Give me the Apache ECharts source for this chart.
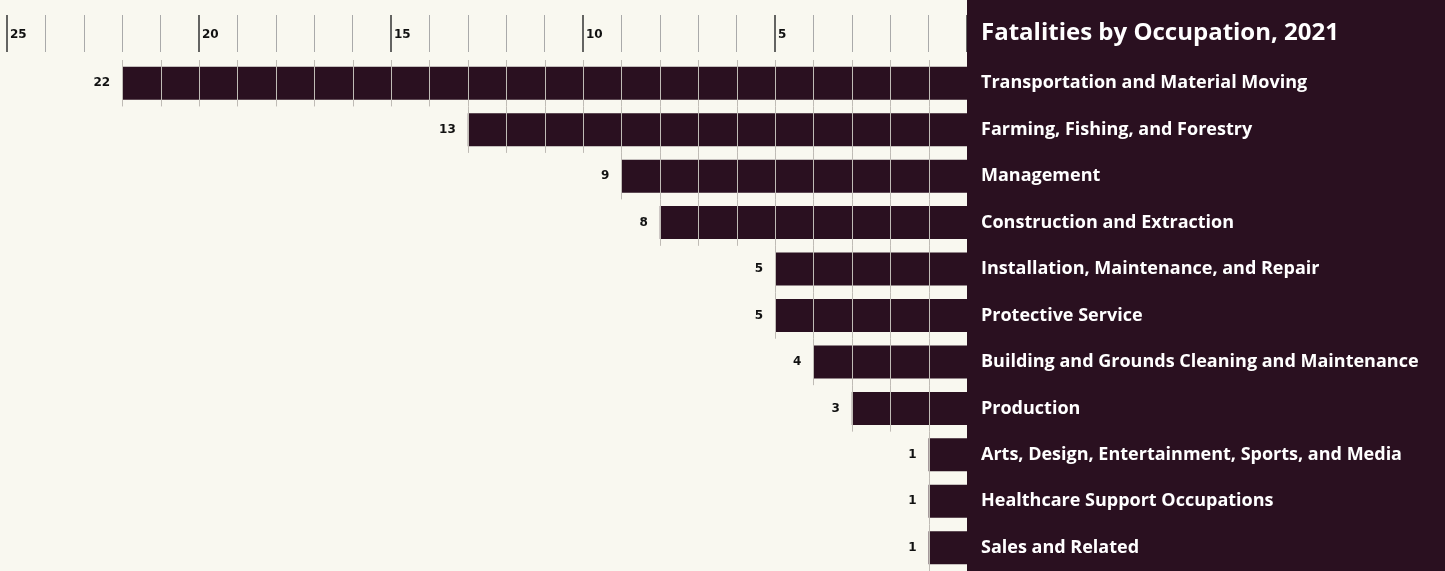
<!DOCTYPE html>
<html>
<head>
<meta charset="utf-8">
<script src="https://cdn.jsdelivr.net/npm/echarts@6/dist/echarts.min.js"></script>
<style>
  html, body { margin: 0; padding: 0; background: #f9f8f0; }
  #main { width: 1445px; height: 571px; }
</style>
</head>
<body>
<div id="main"></div>
<script>
// data
const chartTitle = "Fatalities by Occupation, 2021";
const occupations = [
  "Transportation and Material Moving",
  "Farming, Fishing, and Forestry",
  "Management",
  "Construction and Extraction",
  "Installation, Maintenance, and Repair",
  "Protective Service",
  "Building and Grounds Cleaning and Maintenance",
  "Production",
  "Arts, Design, Entertainment, Sports, and Media",
  "Healthcare Support Occupations",
  "Sales and Related"
];
const fatalities = [22, 13, 9, 8, 5, 5, 4, 3, 1, 1, 1];
const axisMax = 25;
const axisStep = 5;

const dark = "#2a1020";
const cellLine = "#bfbbb5";
const barHeight = 33;

// one bar = a dark block cut into unit cells by thin light lines
function renderUnitBar(params, api) {
  const v = api.value(0);
  const cat = api.value(1);
  const band = api.size([0, 1])[1];
  const base = api.coord([0, cat]);
  const end = api.coord([v, cat]);
  const cy = base[1];
  const children = [{
    type: "rect",
    shape: {
      x: Math.min(base[0], end[0]),
      y: cy - barHeight / 2,
      width: Math.abs(base[0] - end[0]),
      height: barHeight
    },
    style: { fill: dark }
  }];
  for (let k = 1; k <= v; k++) {
    const x = Math.round(api.coord([k, cat])[0]) + 0.5;
    children.push({
      type: "line",
      shape: { x1: x, y1: cy - band / 2, x2: x, y2: cy + band / 2 },
      style: { stroke: cellLine, lineWidth: 1 }
    });
  }
  children.push({
    type: "text",
    style: {
      x: end[0] - 12,
      y: cy,
      text: String(v),
      align: "right",
      verticalAlign: "middle",
      fill: "#111",
      font: "bold 12px 'DejaVu Sans'"
    }
  });
  return { type: "group", children: children };
}

const myChart = echarts.init(document.getElementById("main"));
let option = {
  backgroundColor: "#f9f8f0",
  animation: false,
  grid: {
    top: 60,
    bottom: 0,
    left: 7,
    right: 478,
    containLabel: false
  },
  xAxis: {
    type: "value",
    position: "top",
    inverse: true,
    min: 0,
    max: axisMax,
    interval: axisStep,
    offset: 8,
    z: 0,
    axisLine: { show: false },
    axisTick: {
      show: true,
      length: 37,
      lineStyle: { color: "#333", width: 1.5 }
    },
    minorTick: {
      show: true,
      splitNumber: axisStep,
      length: 37,
      lineStyle: { color: "#aaa", width: 1 }
    },
    splitLine: { show: false },
    minorSplitLine: { show: false },
    axisLabel: {
      show: true,
      margin: 17,
      align: "left",
      verticalAlign: "middle",
      padding: [0, 0, 0, 3],
      color: "#111",
      fontFamily: "DejaVu Sans",
      fontWeight: "bold",
      fontSize: 12,
      formatter: function (v) {
        return v === 0 ? "" : String(v);
      }
    }
  },
  yAxis: {
    type: "category",
    data: occupations,
    inverse: true,
    position: "right",
    z: 10,
    axisLine: { show: false },
    axisTick: { show: false },
    splitLine: { show: false },
    axisLabel: {
      margin: 14,
      align: "left",
      color: "#ffffff",
      fontFamily: "Open Sans",
      fontWeight: "bold",
      fontSize: 18,
      padding: [3, 0, 0, 0]
    }
  },
  graphic: [
    {
      type: "rect",
      z: 1,
      shape: { x: 967, y: 0, width: 478, height: 571 },
      style: { fill: dark }
    },
    {
      type: "text",
      z: 100,
      left: 981,
      top: 21,
      style: {
        text: chartTitle,
        fill: "#ffffff",
        font: "bold 24px 'Open Sans'"
      }
    }
  ],
  series: [{
    type: "custom",
    renderItem: renderUnitBar,
    encode: { x: 0, y: 1 },
    z: 2,
    data: fatalities.map(function (v, i) { return [v, i]; })
  }]
};
myChart.setOption(option);
</script>
</body>
</html>
